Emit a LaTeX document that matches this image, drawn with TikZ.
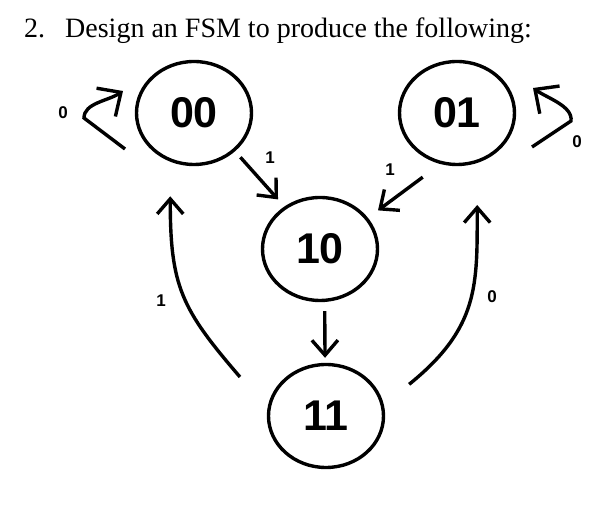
\documentclass[tikz,border=0pt]{standalone}
\usepackage{fontspec}
\setmainfont{Liberation Serif}
\setsansfont{Liberation Sans}
\usetikzlibrary{arrows.meta, shapes, positioning, calc}

\begin{document}
\begin{tikzpicture}
  [x=1pt, y=1pt,
    > = {Straight Barb[length=15pt, width=26pt]},
    state/.style ={
        ellipse,
        draw=black,
        line width=3.4pt,
        minimum width=115pt,
        minimum height=103pt,
        inner sep=0pt,
        font=\sffamily\bfseries\fontsize{43}{43}\selectfont,
      },
    trans/.style ={->, line width=3.4pt},
    lbl/.style ={font=\sffamily\bfseries\fontsize{17}{17}\selectfont, inner sep=0pt},
  ]
  \useasboundingbox (0,0) rectangle (605,505);

  \node[anchor=base west, inner sep=0pt, font=\fontsize{28}{32}\selectfont] (title) at (24,467.7) {2.\hspace{20pt}Design an FSM to produce the following:};

  \node[state] (s00) at (194,392) {00};
  \node[state] (s01) at (457,392) {01};
  \node[state] (s10) at (320,256) {10};
  \node[state] (s11) at (326,89) {11};

  \draw[trans, shorten <=8pt, shorten >=9.5pt] (s00.317) -- (s10.130);
  \draw[trans, shorten <=22pt, shorten >=12.5pt] (s01.252) -- (s10.33);
  \draw[trans, shorten <=9pt, shorten >=5pt] (s10.275) -- (s11.91);
  \draw[trans, shorten <=42pt, shorten >=34.6pt] (s11.173) .. controls +(-86,100) and +(0,-125) .. (s00.244);
  \draw[trans, shorten <=32.5pt, shorten >=42pt] (s11.11) .. controls +(95.5,77.2) and +(0,-122) .. (s01.292);

  % self loops
  \coordinate (l00s) at ($(s00)+(-69,-36)$);
  \coordinate (l00e) at ($(s00)+(-71,22)$);
  \draw[trans, -{Straight Barb[length=18pt, width=34pt]}] (l00s) -- ($(s00)+(-110,-5)$) .. controls ($(s00)+(-110,10)$) and ($(s00)+(-86,12)$) .. (l00e);
  \coordinate (l01s) at ($(s01)+(75,-34)$);
  \coordinate (l01e) at ($(s01)+(76,25)$);
  \draw[trans, -{Straight Barb[length=18pt, width=34pt]}] (l01s) -- ($(s01)+(114,-8)$) .. controls ($(s01)+(116,7)$) and ($(s01)+(90,15)$) .. (l01e);

  \node[lbl] (t00) at (63,392) {0};
  \node[lbl] (t01) at (577,363) {0};
  \node[lbl] (t0010) at (270,347) {1};
  \node[lbl] (t0110) at (390,335) {1};
  \node[lbl] (t1100) at (161,204) {1};
  \node[lbl] (t1101) at (492,208) {0};
\end{tikzpicture}
\end{document}
